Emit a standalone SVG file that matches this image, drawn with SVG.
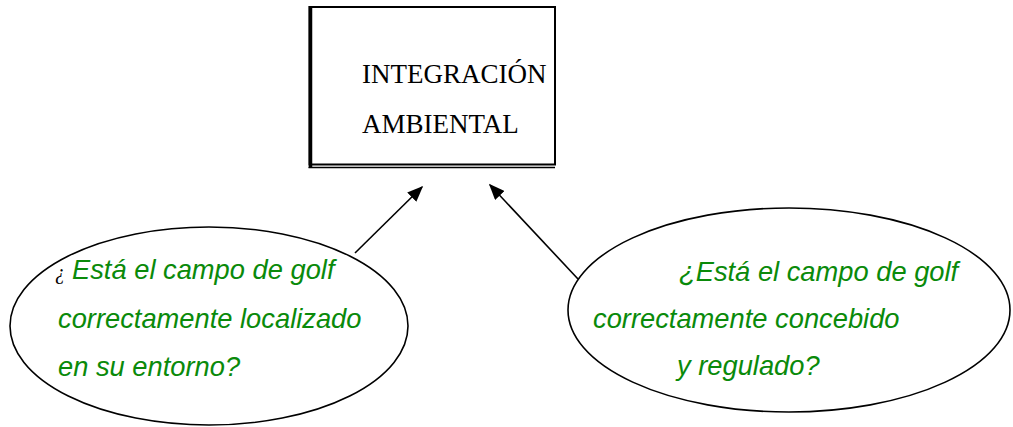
<svg xmlns="http://www.w3.org/2000/svg" width="1013" height="427" viewBox="0 0 1013 427">
<defs>
<style>
.box{fill:#fff;stroke:#000;stroke-width:2}
.ell{fill:#fff;stroke:#000;stroke-width:1.6}
.title{font-family:"Liberation Serif","Times New Roman",serif;font-size:27px;fill:#000}
.q{font-family:"Liberation Sans",Arial,sans-serif;font-size:27.3px;font-style:italic;fill:#0a8a0a}
.inv{font-family:"Liberation Serif","Times New Roman",serif;font-size:20px;font-style:italic;fill:#000}
.conn{stroke:#000;stroke-width:1.6;fill:none}
</style>
<marker id="arr" viewBox="0 0 10 10" refX="9" refY="5" markerWidth="16" markerHeight="13" markerUnits="userSpaceOnUse" orient="auto" preserveAspectRatio="none">
<path d="M0,0 L10,5 L0,10 z" fill="#000"/>
</marker>
</defs>
<rect width="1013" height="427" fill="#fff"/>
<g id="node-integracion">
<rect class="box" x="309.5" y="7" width="245.5" height="157.5"/>
<line x1="310.5" y1="6" x2="310.5" y2="168" stroke="#000" stroke-width="3.5"/>
<line x1="308.5" y1="167.5" x2="555" y2="167.5" stroke="#000" stroke-width="1.6"/>
<text class="title" x="362" y="83">INTEGRACIÓN</text>
<text class="title" x="362" y="133">AMBIENTAL</text>
</g>
<g id="connectors">
<line class="conn" x1="355" y1="253" x2="422" y2="187" marker-end="url(#arr)"/>
<line class="conn" x1="578" y1="279" x2="490" y2="185" marker-end="url(#arr)"/>
</g>
<g id="node-localizado">
<ellipse class="ell" cx="209" cy="326" rx="199" ry="99"/>
<text class="inv" x="55" y="279">¿</text>
<text class="q" x="72" y="279">Está el campo de golf</text>
<text class="q" x="58" y="328">correctamente localizado</text>
<text class="q" x="58" y="376">en su entorno?</text>
</g>
<g id="node-concebido">
<ellipse class="ell" cx="789" cy="310" rx="221" ry="102"/>
<text class="q" x="679" y="281">¿Está el campo de golf</text>
<text class="q" x="593" y="328">correctamente concebido</text>
<text class="q" x="677" y="375">y regulado?</text>
</g>
</svg>
